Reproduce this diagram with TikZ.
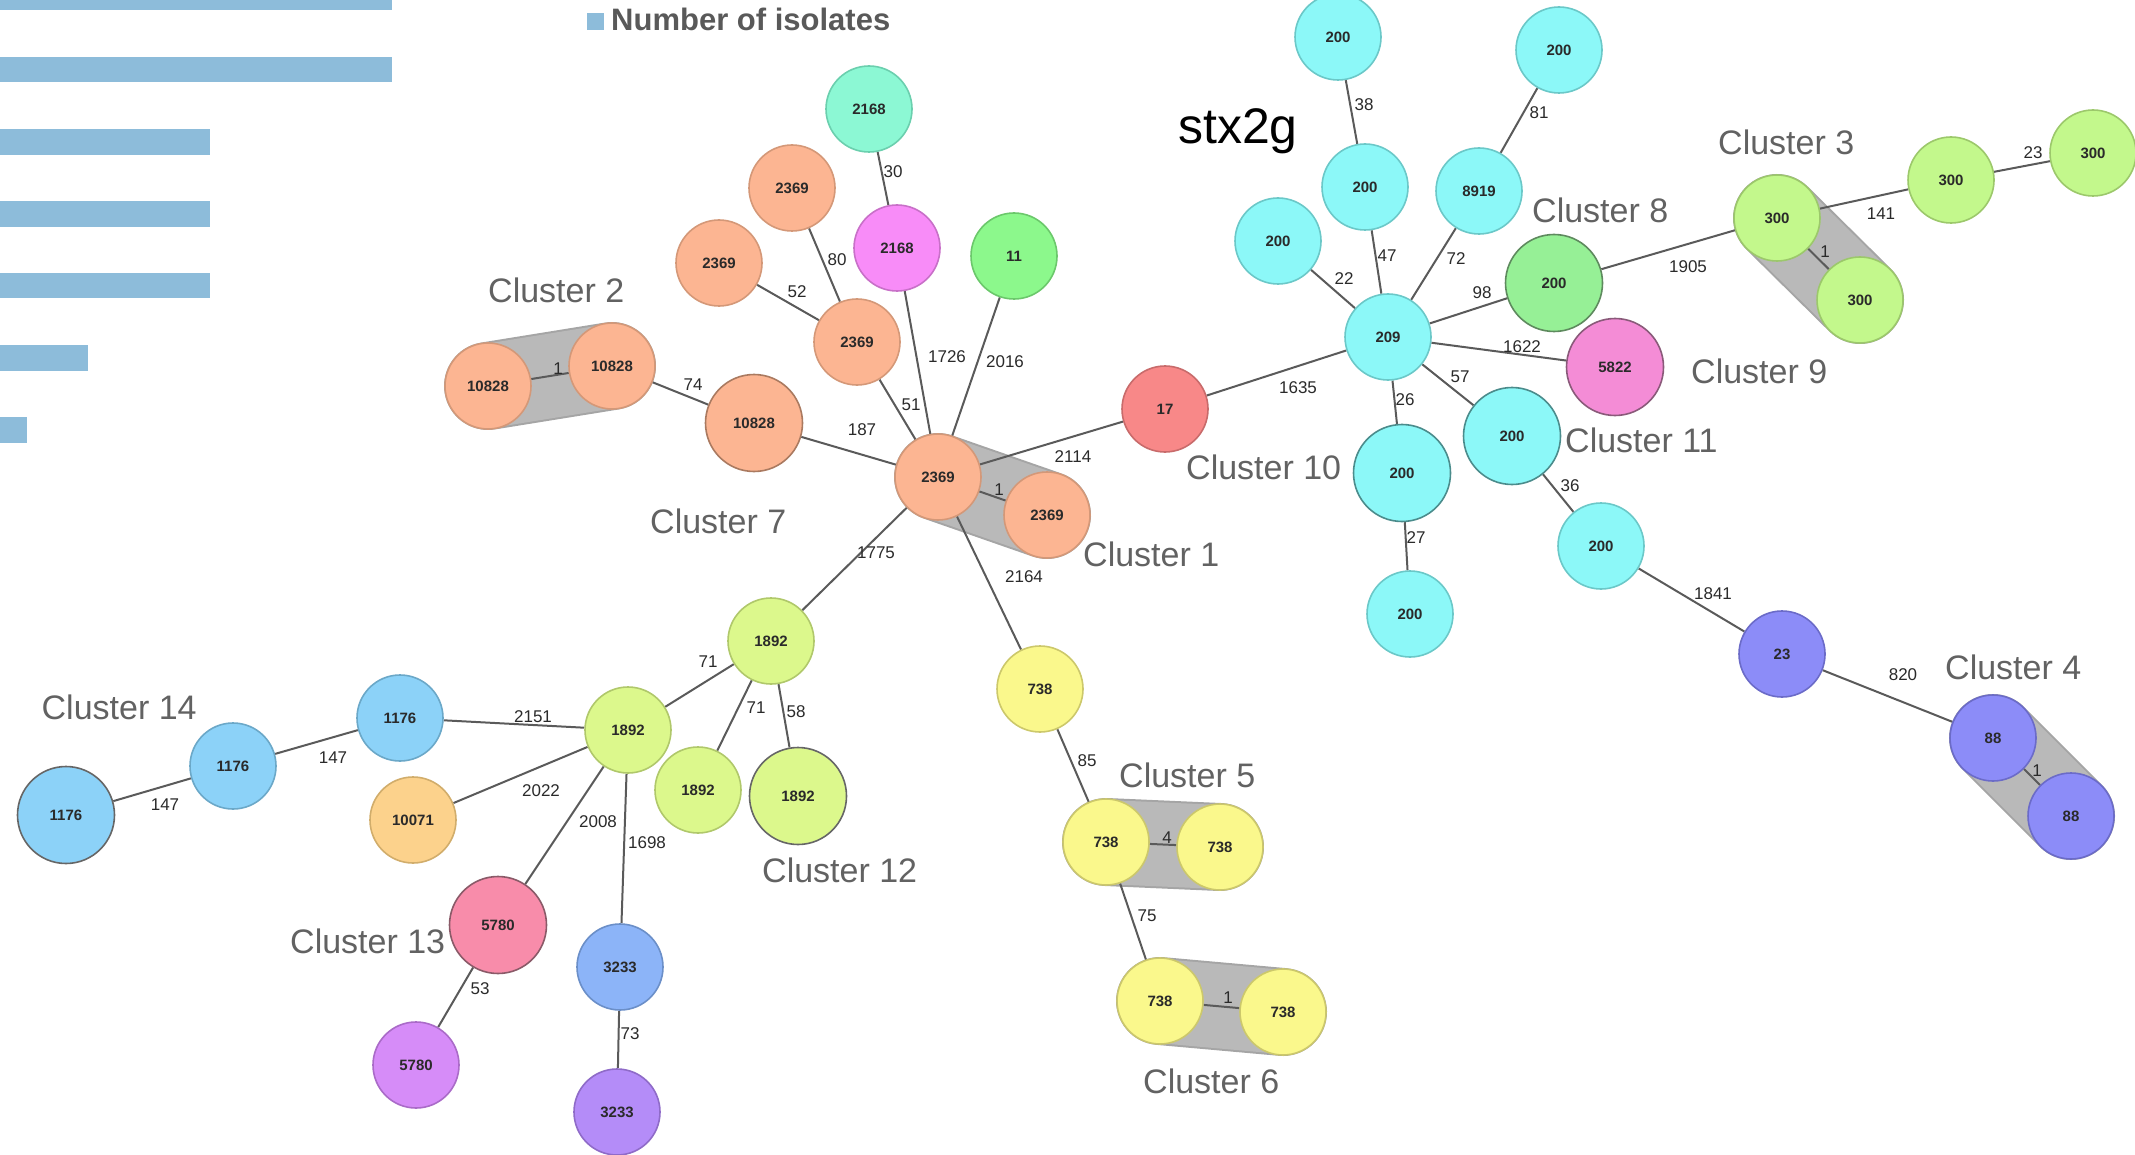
\documentclass[tikz,border=0pt]{standalone}
\usepackage{fontspec}
\setmainfont{Liberation Sans}
\pgfdeclarelayer{band}
\pgfdeclarelayer{edges}
\pgfsetlayers{band,edges,main}
\definecolor{barc}{HTML}{8DBCDA}
\definecolor{legt}{HTML}{595959}
\definecolor{cltx}{HTML}{626262}
\definecolor{txt}{HTML}{2A2A2A}
\definecolor{edgec}{HTML}{5A5A5A}
\definecolor{bandc}{HTML}{B9B9B9}
\definecolor{bandd}{HTML}{A5A5A5}
\definecolor{cOr}{HTML}{FCB592}\definecolor{cOrD}{HTML}{D49878}
\definecolor{cTq}{HTML}{8CF8D4}\definecolor{cTqD}{HTML}{6BCFAE}
\definecolor{cMg}{HTML}{F88CF8}\definecolor{cMgD}{HTML}{C870C8}
\definecolor{cGn}{HTML}{8CF88C}\definecolor{cGnD}{HTML}{6BC86B}
\definecolor{cRd}{HTML}{F88888}\definecolor{cRdD}{HTML}{C86B6B}
\definecolor{cYg}{HTML}{DCF88C}\definecolor{cYgD}{HTML}{B0C86B}
\definecolor{cYe}{HTML}{FAF88C}\definecolor{cYeD}{HTML}{CCC86B}
\definecolor{cCy}{HTML}{8CF8F8}\definecolor{cCyD}{HTML}{6BC8C8}
\definecolor{cG8}{HTML}{96F096}\definecolor{cG8D}{HTML}{5E8A5E}
\definecolor{cG3}{HTML}{C3F88C}\definecolor{cG3D}{HTML}{9CC86B}
\definecolor{cPk}{HTML}{F48CD6}\definecolor{cPkD}{HTML}{8A5A7A}
\definecolor{cPu}{HTML}{8C8CF8}\definecolor{cPuD}{HTML}{6B6BC8}
\definecolor{cBl}{HTML}{8CD2F8}\definecolor{cBlD}{HTML}{6BA8C8}
\definecolor{cOy}{HTML}{FCD28C}\definecolor{cOyD}{HTML}{D1AD6B}
\definecolor{cRs}{HTML}{F88CAA}\definecolor{cRsD}{HTML}{8A5A68}
\definecolor{cBb}{HTML}{8CB4F8}\definecolor{cBbD}{HTML}{6B8FC8}
\definecolor{cVi}{HTML}{D68CF8}\definecolor{cViD}{HTML}{AA6BC8}
\definecolor{cPp}{HTML}{B48CF8}\definecolor{cPpD}{HTML}{8F6BC8}
\tikzset{
  nd/.style={circle, inner sep=0pt, minimum size=86pt, line width=1.6pt,
    font=\fontsize{15}{15}\selectfont\bfseries, text=txt},
  nc/.style 2 args={nd, fill=#1, draw=#2},
  big/.style={minimum size=97pt},
  edge/.style={draw=edgec, line width=2pt},
  el/.style={font=\fontsize{17}{17}\selectfont, text=txt, inner sep=1pt},
  cl/.style={font=\fontsize{34}{34}\selectfont, text=cltx, anchor=base west, inner sep=0pt},
  bar/.style={fill=barc, draw=none},
}
\begin{document}
\begin{tikzpicture}[x=1pt,y=-1pt]
\useasboundingbox (0,0) rectangle (2135,1155);
% ---- bar chart fragment ----
\fill[bar] (0,0) rectangle (392,9.8);
\fill[bar] (0,57.2) rectangle (392,81.7);
\fill[bar] (0,129) rectangle (210,154.7);
\fill[bar] (0,201) rectangle (210,226.6);
\fill[bar] (0,273) rectangle (210,298.5);
\fill[bar] (0,345) rectangle (88,370.7);
\fill[bar] (0,417) rectangle (27.4,442.6);
\fill[bar] (587,13.3) rectangle (604,30.2);
\node[anchor=base west, inner sep=0pt, font=\fontsize{31}{31}\selectfont\bfseries, text=legt] (leg) at (611,31) {Number of isolates};
\node[anchor=base west, inner sep=0pt, font=\fontsize{50}{50}\selectfont] (stx) at (1178,143.8) {stx2g};
% ---- nodes ----
\node[nc={cTq}{cTqD}] (tq) at (869,109) {2168};
\node[nc={cOr}{cOrD}] (o1) at (792,188) {2369};
\node[nc={cOr}{cOrD}] (o2) at (719,263) {2369};
\node[nc={cMg}{cMgD}] (mg) at (897,248) {2168};
\node[nc={cGn}{cGnD}] (g11) at (1014,256) {11};
\node[nc={cOr}{cOrD}] (o3) at (857,342) {2369};
\node[nc={cOr}{cOrD}] (c2a) at (488,386) {10828};
\node[nc={cOr}{cOrD}] (c2b) at (612,366) {10828};
\node[nc={cOr}{cOrD!80!black}, big] (c7) at (754,423) {10828};
\node[nc={cOr}{cOrD}] (ctr) at (938,477) {2369};
\node[nc={cOr}{cOrD}] (c1b) at (1047,515) {2369};
\node[nc={cRd}{cRdD}] (r17) at (1165,409) {17};
\node[nc={cYg}{cYgD}] (y1) at (771,641) {1892};
\node[nc={cYe}{cYeD}] (ye1) at (1040,689) {738};
\node[nc={cYe}{cYeD}] (c5a) at (1106,842) {738};
\node[nc={cYe}{cYeD}] (c5b) at (1220,847) {738};
\node[nc={cYe}{cYeD}] (c6a) at (1160,1001) {738};
\node[nc={cYe}{cYeD}] (c6b) at (1283,1012) {738};
\node[nc={cYg}{cYgD}] (y2) at (628,730) {1892};
\node[nc={cYg}{cYgD}] (y3) at (698,790) {1892};
\node[nc={cYg}{gray!80!black}, big] (c12) at (798,796) {1892};
\node[nc={cBl}{cBlD}] (b1) at (400,718) {1176};
\node[nc={cBl}{cBlD}] (b2) at (233,766) {1176};
\node[nc={cBl}{gray!80!black}, big] (b3) at (66,815) {1176};
\node[nc={cOy}{cOyD}] (oy) at (413,820) {10071};
\node[nc={cRs}{cRsD}, big] (p5780) at (498,925) {5780};
\node[nc={cBb}{cBbD}] (bb) at (620,967) {3233};
\node[nc={cVi}{cViD}] (v5780) at (416,1065) {5780};
\node[nc={cPp}{cPpD}] (pp) at (617,1112) {3233};
\node[nc={cCy}{cCyD}] (cy1) at (1338,37) {200};
\node[nc={cCy}{cCyD}] (cy2) at (1559,50) {200};
\node[nc={cCy}{cCyD}] (cy3) at (1365,187) {200};
\node[nc={cCy}{cCyD}] (cy89) at (1479,191) {8919};
\node[nc={cCy}{cCyD}] (cy4) at (1278,241) {200};
\node[nc={cCy}{cCyD}] (hub) at (1388,337) {209};
\node[nc={cG8}{cG8D}, big] (c8) at (1554,283) {200};
\node[nc={cG3}{cG3D}] (c3a) at (1777,218) {300};
\node[nc={cG3}{cG3D}] (c3b) at (1860,300) {300};
\node[nc={cG3}{cG3D}] (g141) at (1951,180) {300};
\node[nc={cG3}{cG3D}] (g23) at (2093,153) {300};
\node[nc={cPk}{cPkD}, big] (c9) at (1615,367) {5822};
\node[nc={cCy}{cCyD!70!black}, big] (c11) at (1512,436) {200};
\node[nc={cCy}{cCyD!70!black}, big] (c10) at (1402,473) {200};
\node[nc={cCy}{cCyD}] (cy5) at (1410,614) {200};
\node[nc={cCy}{cCyD}] (cy6) at (1601,546) {200};
\node[nc={cPu}{cPuD}] (pu23) at (1782,654) {23};
\node[nc={cPu}{cPuD}] (c4a) at (1993,738) {88};
\node[nc={cPu}{cPuD}] (c4b) at (2071,816) {88};
% ---- cluster bands ----
\begin{pgfonlayer}{band}
\foreach \a/\b in {c2a/c2b, ctr/c1b, c3a/c3b, c4a/c4b, c5a/c5b, c6a/c6b}{
  \draw[bandd, line width=88pt, line cap=round] (\a.center) -- (\b.center);
  \draw[bandc, line width=84pt, line cap=round] (\a.center) -- (\b.center);
}
\end{pgfonlayer}
% ---- edges ----
\begin{pgfonlayer}{edges}
\foreach \a/\b in {tq/mg, o1/o3, o2/o3, o3/ctr, mg/ctr, g11/ctr, c2a/c2b, c2b/c7, c7/ctr,
  ctr/c1b, ctr/r17, r17/hub, ctr/y1, ctr/ye1, y1/y2, y1/y3, y1/c12, b1/y2, b2/b1, b3/b2,
  oy/y2, p5780/y2, bb/y2, p5780/v5780, bb/pp, ye1/c5a, c5a/c5b, c5a/c6a, c6a/c6b,
  cy1/cy3, cy3/hub, cy2/cy89, cy89/hub, cy4/hub, hub/c8, c8/c3a, c3a/g141, g141/g23,
  c3a/c3b, hub/c9, hub/c11, hub/c10, c10/cy5, c11/cy6, cy6/pu23, pu23/c4a, c4a/c4b}{
  \draw[edge] (\a) -- (\b);
}
\end{pgfonlayer}
% ---- edge labels ----
\node[el] (l1) at (893,172) {30};
\node[el] (l2) at (837,260) {80};
\node[el] (l3) at (797,292) {52};
\node[el] (l4) at (911,405) {51};
\node[el] (l5) at (947,357) {1726};
\node[el] (l6) at (1005,362) {2016};
\node[el] (l7) at (558,369) {1};
\node[el] (l8) at (693,385) {74};
\node[el] (l9) at (862,430) {187};
\node[el] (l10) at (999,490) {1};
\node[el] (l11) at (1073,457) {2114};
\node[el] (l12) at (1298,388) {1635};
\node[el] (l13) at (876,553) {1775};
\node[el] (l14) at (1024,577) {2164};
\node[el] (l15) at (708,662) {71};
\node[el] (l16) at (756,708) {71};
\node[el] (l17) at (796,712) {58};
\node[el] (l18) at (533,717) {2151};
\node[el] (l19) at (333,758) {147};
\node[el] (l20) at (165,805) {147};
\node[el] (l21) at (541,791) {2022};
\node[el] (l22) at (598,822) {2008};
\node[el] (l23) at (647,843) {1698};
\node[el] (l24) at (480,989) {53};
\node[el] (l25) at (630,1034) {73};
\node[el] (l26) at (1087,761) {85};
\node[el] (l27) at (1167,838) {4};
\node[el] (l28) at (1147,916) {75};
\node[el] (l29) at (1228,998) {1};
\node[el] (l30) at (1364,105) {38};
\node[el] (l31) at (1387,256) {47};
\node[el] (l32) at (1539,113) {81};
\node[el] (l33) at (1456,259) {72};
\node[el] (l34) at (1344,279) {22};
\node[el] (l35) at (1482,293) {98};
\node[el] (l36) at (1688,267) {1905};
\node[el] (l37) at (1881,214) {141};
\node[el] (l38) at (2033,153) {23};
\node[el] (l39) at (1825,252) {1};
\node[el] (l40) at (1522,347) {1622};
\node[el] (l41) at (1460,377) {57};
\node[el] (l42) at (1405,400) {26};
\node[el] (l43) at (1416,538) {27};
\node[el] (l44) at (1570,486) {36};
\node[el] (l45) at (1713,594) {1841};
\node[el] (l46) at (1903,675) {820};
\node[el] (l47) at (2037,771) {1};
% ---- cluster labels ----
\node[cl] (k1) at (1083,566.7) {Cluster 1};
\node[cl] (k2) at (488,303) {Cluster 2};
\node[cl] (k3) at (1718,154.3) {Cluster 3};
\node[cl] (k4) at (1945,679.6) {Cluster 4};
\node[cl] (k5) at (1119,787) {Cluster 5};
\node[cl] (k6) at (1143,1093) {Cluster 6};
\node[cl] (k7) at (650,533) {Cluster 7};
\node[cl] (k8) at (1532,222.7) {Cluster 8};
\node[cl] (k9) at (1691,383) {Cluster 9};
\node[cl] (k10) at (1186,479) {Cluster 10};
\node[cl] (k11) at (1565,452.5) {Cluster 11};
\node[cl] (k12) at (762,882.6) {Cluster 12};
\node[cl] (k13) at (290,953) {Cluster 13};
\node[cl] (k14) at (41.5,719.7) {Cluster 14};
\end{tikzpicture}
\end{document}
